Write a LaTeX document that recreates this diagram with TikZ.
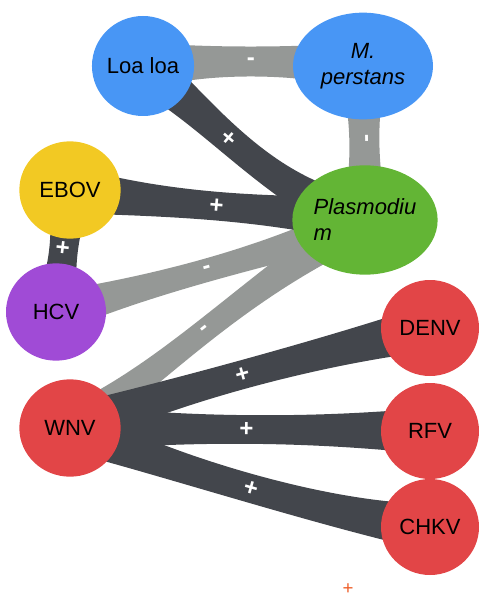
\documentclass[tikz,border=0pt]{standalone}
\usepackage{fontspec}
\setmainfont{Liberation Sans}
\usetikzlibrary{shapes.geometric,backgrounds,calc}

\definecolor{loablue}{RGB}{72,150,245}
\definecolor{ebovyel}{RGB}{242,201,35}
\definecolor{hcvpurp}{RGB}{160,75,214}
\definecolor{plasgrn}{RGB}{99,181,53}
\definecolor{virred}{RGB}{226,69,71}
\definecolor{ribdark}{RGB}{67,70,76}
\definecolor{ribgrey}{RGB}{149,152,150}
\definecolor{orng}{RGB}{238,92,38}

% ribbon: style, from, control 1, control 2, to, sign node
\newcommand\ribbon[6]{%
  \draw[#1] ($(#2)!9pt!90:(#3)$) .. controls (#3) and (#4) .. ($(#5)!9pt!-90:(#4)$);
  \draw[#1] ($(#2)!9pt!-90:(#3)$) .. controls (#3) and (#4) .. ($(#5)!9pt!90:(#4)$);
  \draw[#1] (#2) .. controls (#3) and (#4) .. (#5) #6;
}

\begin{document}
\begin{tikzpicture}[x=0.75pt,y=-0.75pt,
blob/.style={ellipse,inner sep=0pt,font=\fontsize{16.5}{19.5}\selectfont,text=black},
darkrib/.style={draw=ribdark,line width=17pt},
greyrib/.style={draw=ribgrey,line width=13pt},
sgn/.style={sloped,text=white,inner sep=0pt,font=\fontsize{18}{18}\selectfont\bfseries}]
\useasboundingbox (0,0) rectangle (479,598);

\node (loa) [blob,fill=loablue,minimum width=75pt,minimum height=75pt] at (143,66) {Loa loa};
\node (mper) [blob,fill=loablue,minimum width=105pt,minimum height=80pt,align=center] at (363,66) {\itshape M.\\\itshape perstans};
\node (ebov) [blob,fill=ebovyel,minimum width=76pt,minimum height=73pt] at (70,190) {EBOV};
\node (hcv) [blob,fill=hcvpurp,minimum width=75pt,minimum height=73pt] at (56,312) {HCV};
\node (plas) [blob,fill=plasgrn,minimum width=105pt,minimum height=82pt,align=left] at (365,220) {\itshape Plasmodiu\\\itshape m};
\node (wnv) [blob,fill=virred,minimum width=76pt,minimum height=73pt] at (70,428) {WNV};
\node (denv) [blob,fill=virred,minimum width=73.5pt,minimum height=72pt] at (430,328) {DENV};
\node (rfv) [blob,fill=virred,minimum width=73.5pt,minimum height=72pt] at (430,431) {RFV};
\node (chkv) [blob,fill=virred,minimum width=73.5pt,minimum height=72pt] at (430,527) {CHKV};

\node (tick) [text=orng,inner sep=0pt,font=\fontsize{14}{14}\selectfont] at (348,589) {+};

\begin{pgfonlayer}{background}
% negative links
\ribbon{greyrib,line width=18pt}{loa.center}{200,60}{300,60}{mper.center}{node[sgn,pos=.5] {-}}
\ribbon{greyrib,line width=18pt}{mper.center}{364,117}{365,169}{plas.center}{node[sgn,pos=.47] {-}}
\ribbon{greyrib}{hcv.center}{150,285}{262,258}{plas.center}{node[sgn,pos=.5] {-}}
\ribbon{greyrib}{wnv.center}{165,372}{238,292}{plas.center}{node[sgn,pos=.5] {-}}
% positive links
\ribbon{darkrib}{loa.center}{210,115}{268,192}{plas.center}{node[sgn,pos=.43] {+}}
\ribbon{darkrib}{ebov.center}{170,205}{262,208}{plas.center}{node[sgn,pos=.5] {+}}
\ribbon{darkrib}{ebov.center}{66,231}{61,272}{hcv.center}{node[sgn,pos=.47] {+}}
\ribbon{darkrib}{wnv.center}{160,395}{320,352}{denv.center}{node[sgn,pos=.5] {+}}
\ribbon{darkrib}{wnv.center}{190,429}{310,430}{rfv.center}{node[sgn,pos=.49] {+}}
\ribbon{darkrib}{wnv.center}{150,460}{320,515}{chkv.center}{node[sgn,pos=.53] {+}}
\end{pgfonlayer}
\end{tikzpicture}
\end{document}
